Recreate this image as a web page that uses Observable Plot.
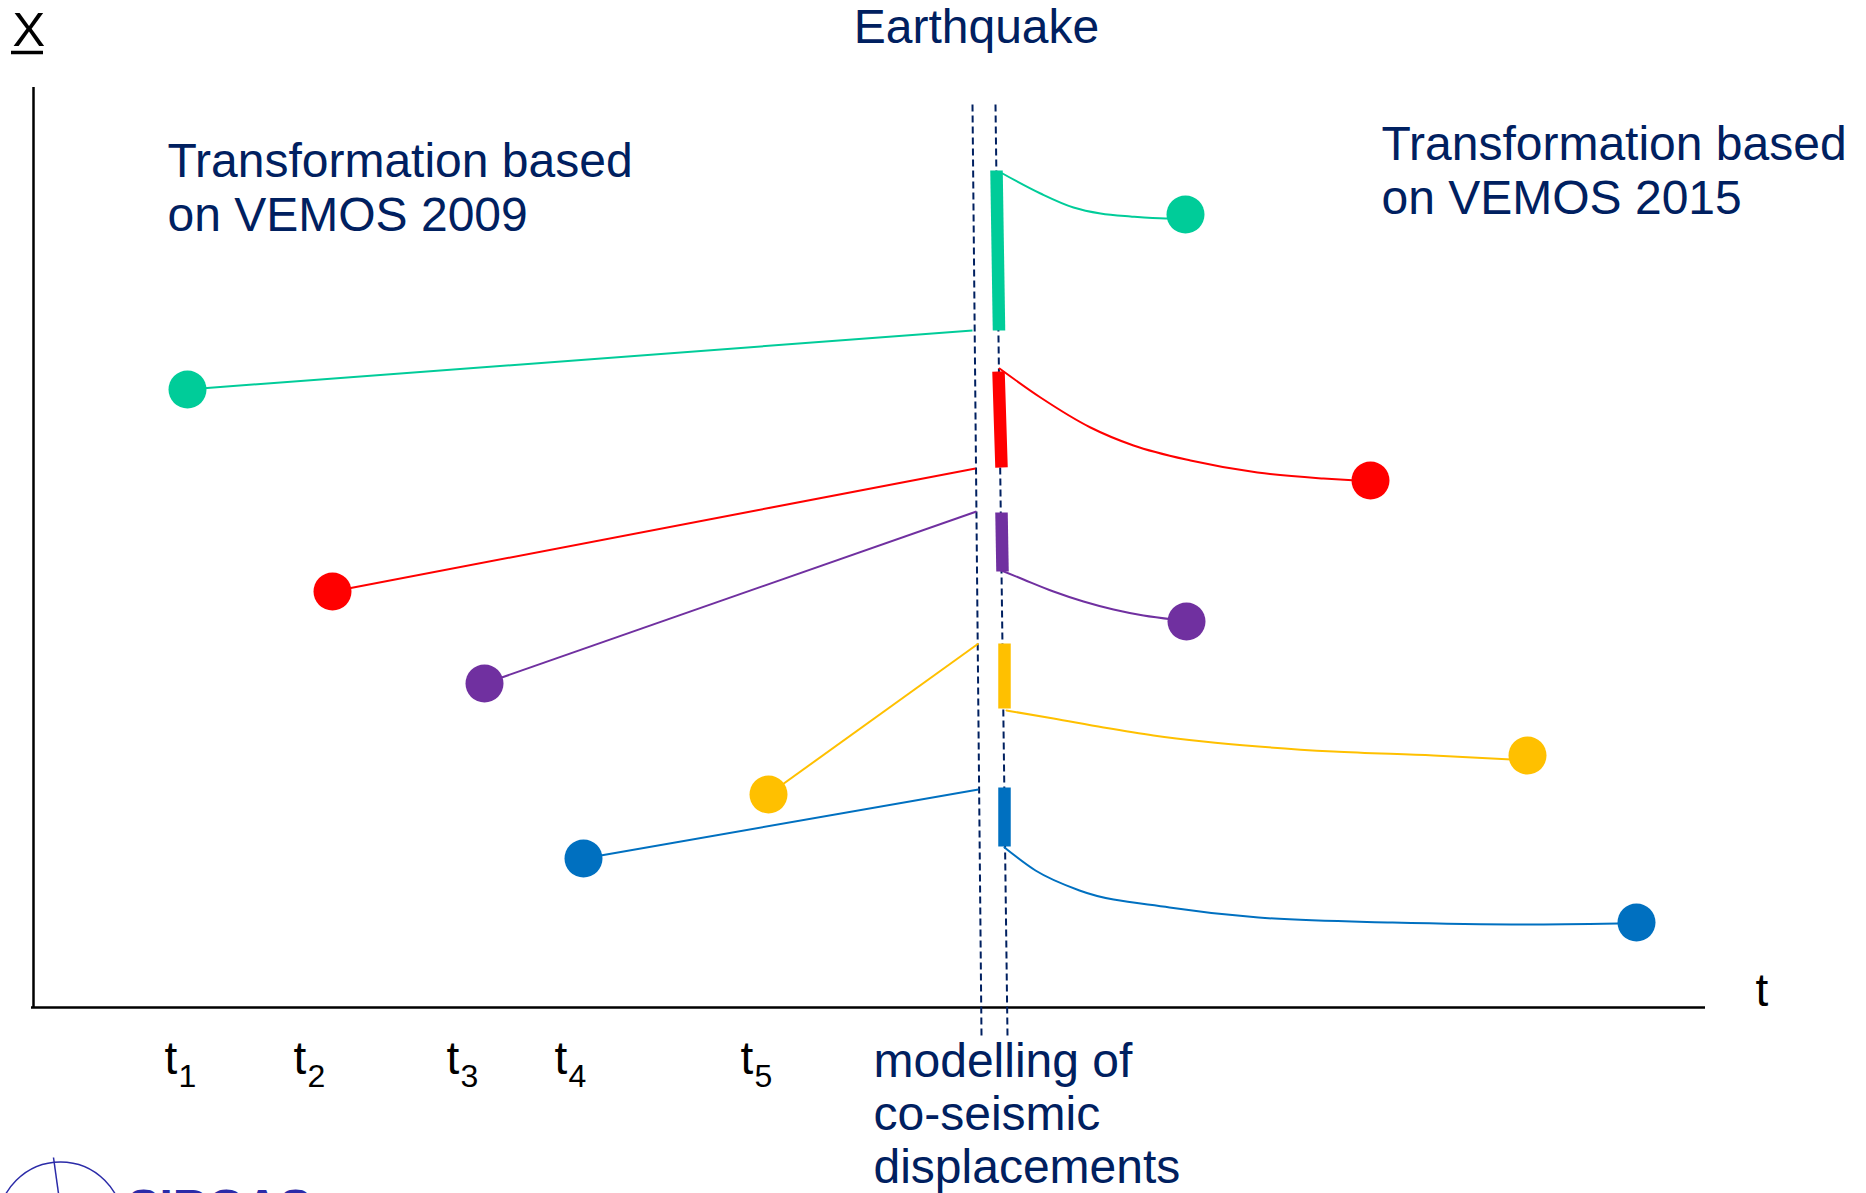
<!DOCTYPE html>
<html>
<head>
<meta charset="utf-8">
<script src="https://cdn.jsdelivr.net/npm/d3@7"></script>
<script src="https://cdn.jsdelivr.net/npm/@observablehq/plot@0.6"></script>
<style>
  html, body { margin: 0; padding: 0; background: #fff; overflow: hidden; }
</style>
</head>
<body>
<div id="chart"></div>
<script>
// ---- data (t = time axis units, X = coordinate units; origin at axes crossing) ----
const seriesNames  = ["s1", "s2", "s3", "s4", "s5"];
const seriesColors = ["#00CC99", "#FF0000", "#7030A0", "#FFC000", "#0070C0"];

// observations at t1..t5 (VEMOS 2009 frame)
const obsT = [154, 299, 451, 735, 550];
const obsX = [618, 416, 324, 213, 149];

// positions propagated to the earthquake epoch
const preT = [939, 942, 943, 945, 945];
const preX = [677, 539, 496, 364, 218];

// co-seismic displacements (start / end)
const coT1 = [963, 965, 968, 971, 971];
const coX1 = [837, 636, 495, 364, 220];
const coT2 = [965.5, 968, 969, 971, 971];
const coX2 = [677, 540, 436, 299, 161];

// post-seismic trajectories (VEMOS 2015)
const postS1 = [[969, 834], [1007, 814], [1040, 800], [1067, 794], [1097, 791], [1132, 789], [1145, 790]];
const postS2 = [[966, 639], [1007, 610], [1057, 580], [1100, 562], [1157, 547], [1224, 535], [1290, 529], [1322, 527]];
const postS3 = [[968, 437], [990, 428], [1020, 416], [1050, 406], [1080, 398], [1110, 392], [1140, 388]];
const postS4 = [[973, 297], [1020, 289], [1070, 280], [1120, 272], [1170, 266], [1225, 261], [1300, 256], [1400, 252], [1478, 248]];
const postS5 = [[971, 160], [1002, 137], [1046, 117], [1136, 100], [1225, 90], [1359, 85], [1493, 83], [1585, 84]];

// positions after the earthquake
const endT = [1152, 1337, 1153, 1494, 1603];
const endX = [793, 527, 386, 252, 85];

// earthquake epoch dashed lines
const quakeTTop    = [939, 962];
const quakeTBottom = [948, 974];
const quakeXTop = 903, quakeXBottom = -28;

// tick labels
const tickT   = [131, 260, 413, 521, 707];
const tickSub = ["1", "2", "3", "4", "5"];

// annotations
const notes = [
  {t: 134,  X: 777,  text: "Transformation based\non VEMOS 2009", anchor: "start",  lh: 1.11},
  {t: 1348, X: 794,  text: "Transformation based\non VEMOS 2015", anchor: "start",  lh: 1.125},
  {t: 840,  X: -175, text: "modelling of\nco-seismic\ndisplacements", anchor: "start", lh: 1.094},
  {t: 943,  X: 965,  text: "Earthquake", anchor: "middle", lh: 1}
];

// ---- build ----
const idx = d3.range(seriesNames.length);
const posts = [postS1, postS2, postS3, postS4, postS5];
const postData = posts.flatMap((arr, i) => arr.map(([t, X]) => ({s: seriesNames[i], t, X})));

const font = "'Liberation Sans', Arial, Helvetica, sans-serif";
const navy = "#002060";
const logoBlue = "#2b2ba8";
const noteSize = 48;

const noteMark = (d) => Plot.text([d], {
  x: "t", y: "X", text: "text", textAnchor: d.anchor, lineAnchor: "bottom",
  lineHeight: d.lh, fontSize: noteSize, fill: navy, fontFamily: font
});

const chart = Plot.plot({
  width: 1866,
  height: 1193,
  marginTop: 0, marginRight: 0, marginBottom: 0, marginLeft: 0,
  x: {domain: [-33, 1833], range: [0, 1866], axis: null},
  y: {domain: [-186, 1007], range: [1193, 0], axis: null},
  color: {domain: seriesNames, range: seriesColors},
  style: {background: "white", overflow: "visible", fontFamily: font},
  marks: [
    // axes
    Plot.ruleX([0], {y1: 0, y2: 920, stroke: "black", strokeWidth: 2.5}),
    Plot.ruleY([0], {x1: -2, x2: 1672, stroke: "black", strokeWidth: 2.5}),

    // earthquake epoch dashed lines
    Plot.link([0, 1], {
      x1: i => quakeTTop[i], y1: () => quakeXTop,
      x2: i => quakeTBottom[i], y2: () => quakeXBottom,
      stroke: navy, strokeWidth: 2, strokeDasharray: "7,4"
    }),

    // lines from observations to earthquake epoch
    Plot.link(idx, {
      x1: i => obsT[i], y1: i => obsX[i],
      x2: i => preT[i], y2: i => preX[i],
      stroke: i => seriesNames[i], strokeWidth: 2
    }),

    // co-seismic displacements
    Plot.link(idx, {
      x1: i => coT1[i], y1: i => coX1[i],
      x2: i => coT2[i], y2: i => coX2[i],
      stroke: i => seriesNames[i], strokeWidth: 12.5, strokeLinecap: "butt"
    }),

    // post-seismic trajectories
    Plot.line(postData, {x: "t", y: "X", z: "s", stroke: "s", strokeWidth: 2, curve: "monotone-x"}),

    // points
    Plot.dot(idx, {x: i => obsT[i], y: i => obsX[i], r: 19, fill: i => seriesNames[i], stroke: "none"}),
    Plot.dot(idx, {x: i => endT[i], y: i => endX[i], r: 19, fill: i => seriesNames[i], stroke: "none"}),

    // tick labels t with subscripts
    Plot.text(idx, {x: i => tickT[i], y: () => -66, text: () => "t", textAnchor: "start", lineAnchor: "bottom",
      fontSize: 46, fill: "black", fontFamily: font}),
    Plot.text(idx, {x: i => tickT[i], y: () => -66, dx: 14, dy: 13, text: i => tickSub[i], textAnchor: "start",
      lineAnchor: "bottom", fontSize: 32, fill: "black", fontFamily: font}),

    // axis titles
    Plot.text(["X"], {x: () => -21, y: () => 962, text: d => d, textAnchor: "start", lineAnchor: "bottom",
      fontSize: 49, fill: "black", fontFamily: font}),
    Plot.ruleY([955], {x1: -22, x2: 10, stroke: "black", strokeWidth: 3.5}),
    Plot.text(["t"], {x: () => 1722, y: () => 2, text: d => d, textAnchor: "start", lineAnchor: "bottom",
      fontSize: 46, fill: "black", fontFamily: font}),

    // annotations
    ...notes.map(noteMark),

    // partial logo at bottom-left
    Plot.dot([0], {x: () => 27, y: () => -217, r: 62.5, fill: "none", stroke: logoBlue, strokeWidth: 1.5}),
    Plot.link([0], {x1: () => 20, y1: () => -150, x2: () => 25, y2: () => -186, stroke: logoBlue, strokeWidth: 1.5}),
    Plot.text(["SIRGAS"], {x: () => 94, y: () => -215, text: d => d, textAnchor: "start", lineAnchor: "bottom",
      fontSize: 48, fontWeight: "bold", fill: logoBlue, fontFamily: font})
  ]
});

document.getElementById("chart").appendChild(chart);
</script>
</body>
</html>
